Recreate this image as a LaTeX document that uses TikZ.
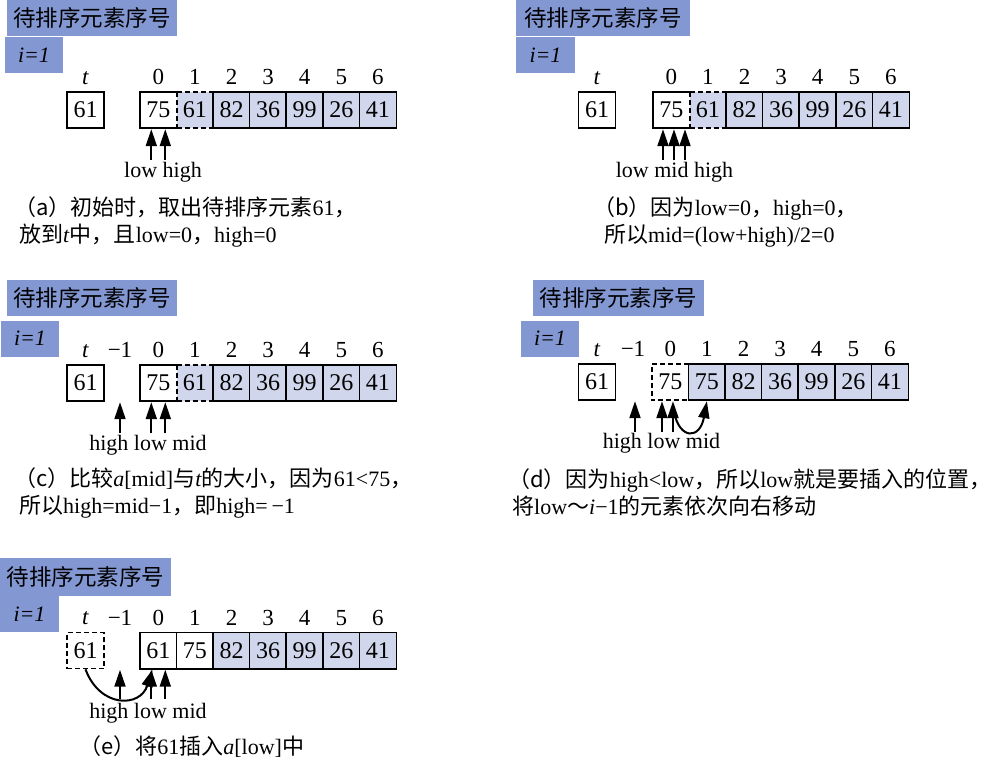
\documentclass[tikz,border=0pt]{standalone}
\usepackage{fontspec}
\setmainfont{Liberation Serif}
\newfontfamily\cjk{Noto Sans CJK SC}
\usetikzlibrary{arrows.meta}
\definecolor{hdrblue}{RGB}{131,151,210}
\definecolor{cellblue}{RGB}{208,215,236}
\newcommand\zh[1]{{\cjk #1}}
\begin{document}
\begin{tikzpicture}[x=1pt,y=-1pt,
  cellbox/.style={rectangle, minimum width=36.6pt, minimum height=36pt, inner sep=0pt, font=\fontsize{24}{24}\selectfont},
  tbox/.style={cellbox, minimum width=37pt, draw, line width=1.6pt},
  bord/.style={line width=1.6pt},
  dbord/.style={line width=1.6pt, dash pattern=on 5pt off 3pt},
  hdr/.style={fill=hdrblue, inner sep=0pt, minimum width=170pt, minimum height=36pt, font={\fontsize{22.5}{22.5}\selectfont\cjk}},
  ihdr/.style={fill=hdrblue, inner sep=0pt, minimum width=58pt, minimum height=36pt, font={\fontsize{22}{22}\selectfont\itshape}},
  idx/.style={anchor=base, inner sep=0pt, font=\fontsize{23}{23}\selectfont},
  lab/.style={anchor=base, inner sep=0pt, font=\fontsize{22}{22}\selectfont},
  captxt/.style={anchor=base west, inner sep=0pt, font=\fontsize{22}{22}\selectfont},
  ptr/.style={line width=2pt, -{Triangle[width=11pt,length=17pt]}}
]
\useasboundingbox (0,0) rectangle (1001,763);

% ================= (a) =================
\node[hdr] (ha) at (92,18) {待排序元素序号};
\node[ihdr] (ia) at (34,55) {i=1};
\node[tbox] (ta) at (85.5,110) {61};
\node[idx] at ([yshift=7pt]ta.north) {\textit{t}};
\foreach \v/\f [count=\k from 0] in {75/white,61/cellblue,82/cellblue,36/cellblue,99/cellblue,26/cellblue,41/cellblue}
  \node[cellbox, fill=\f] (a\k) at ({158.3+36.6*\k},110) {\v};
\foreach \k in {0,...,6} \node[idx] at ([yshift=7pt]a\k.north) {\k};
\draw[bord] (a0.north east) -- (a0.north west) -- (a0.south west) -- (a0.south east);
\draw[dbord] (a0.north east) -- (a1.north east) (a0.south east) -- (a1.south east) (a0.north east) -- (a0.south east);
\draw[bord] (a2.north west) rectangle (a6.south east);
\foreach \k in {3,...,6} \draw[bord] (a\k.north west) -- (a\k.south west);
\draw[ptr] ([xshift=-7pt,yshift=-32pt]a0.south) -- ([xshift=-7pt,yshift=-1pt]a0.south);
\draw[ptr] ([xshift=7pt,yshift=-32pt]a0.south) -- ([xshift=7pt,yshift=-1pt]a0.south);
\node[lab] (la) at (163,177) {low high};
\node[captxt] (ca1) at (14,215) {\zh{（a）初始时，取出待排序元素}61\zh{，}};
\node[captxt] (ca2) at (19,242) {\zh{放到}\textit{t}\zh{中，且}low=0\zh{，}high=0};

% ================= (b) =================
\node[hdr, minimum width=174pt] (hb) at (603,18) {待排序元素序号};
\node[ihdr, minimum width=59pt] (ib) at (545.5,55) {i=1};
\node[tbox] (tb) at (597,110) {61};
\node[idx] at ([yshift=7pt]tb.north) {\textit{t}};
\foreach \v/\f [count=\k from 0] in {75/white,61/cellblue,82/cellblue,36/cellblue,99/cellblue,26/cellblue,41/cellblue}
  \node[cellbox, fill=\f] (b\k) at ({671.3+36.6*\k},110) {\v};
\foreach \k in {0,...,6} \node[idx] at ([yshift=7pt]b\k.north) {\k};
\draw[bord] (b0.north east) -- (b0.north west) -- (b0.south west) -- (b0.south east);
\draw[dbord] (b0.north east) -- (b1.north east) (b0.south east) -- (b1.south east) (b0.north east) -- (b0.south east);
\draw[bord] (b2.north west) rectangle (b6.south east);
\foreach \k in {3,...,6} \draw[bord] (b\k.north west) -- (b\k.south west);
\foreach \s in {-8.3,2.7,13.7}
  \draw[ptr] ([xshift=\s pt,yshift=-32pt]b0.south) -- ([xshift=\s pt,yshift=-1pt]b0.south);
\node[lab] (lb) at (674.5,177) {low mid high};
\node[captxt] (cb1) at (593,215) {\zh{（b）因为}low=0\zh{，}high=0\zh{，}};
\node[captxt] (cb2) at (604,242) {\zh{所以}mid=(low+high)/2=0};

% ================= (c) =================
\node[hdr] (hc) at (92,298) {待排序元素序号};
\node[ihdr] (ic) at (30,338.5) {i=1};
\node[tbox] (tc) at (85.5,383) {61};
\node[idx] at ([yshift=7pt]tc.north) {\textit{t}};
\foreach \v/\f [count=\k from 0] in {75/white,61/cellblue,82/cellblue,36/cellblue,99/cellblue,26/cellblue,41/cellblue}
  \node[cellbox, fill=\f] (c\k) at ({158.3+36.6*\k},383) {\v};
\foreach \k in {0,...,6} \node[idx] at ([yshift=7pt]c\k.north) {\k};
\node[idx] at ([xshift=-38.3pt,yshift=7pt]c0.north) {−1};
\draw[bord] (c0.north east) -- (c0.north west) -- (c0.south west) -- (c0.south east);
\draw[dbord] (c0.north east) -- (c1.north east) (c0.south east) -- (c1.south east) (c0.north east) -- (c0.south east);
\draw[bord] (c2.north west) rectangle (c6.south east);
\foreach \k in {3,...,6} \draw[bord] (c\k.north west) -- (c\k.south west);
\foreach \s in {-38.3,-7,7}
  \draw[ptr] ([xshift=\s pt,yshift=-32pt]c0.south) -- ([xshift=\s pt,yshift=-1pt]c0.south);
\node[lab] (lc) at (148,450) {high low mid};
\node[captxt] (cc1) at (14,486) {\zh{（c）比较}\textit{a}[mid]\zh{与}\textit{t}\zh{的大小，因为}61<75\zh{，}};
\node[captxt] (cc2) at (19,513) {\zh{所以}high=mid−1\zh{，即}high=\,−1};

% ================= (d) =================
\node[hdr, minimum width=171pt] (hd) at (618.5,298) {待排序元素序号};
\node[ihdr] (id) at (550,338.5) {i=1};
\node[tbox] (td) at (597,382) {61};
\node[idx] at ([yshift=7pt]td.north) {\textit{t}};
\foreach \v/\f [count=\k from 0] in {75/white,75/cellblue,82/cellblue,36/cellblue,99/cellblue,26/cellblue,41/cellblue}
  \node[cellbox, fill=\f] (d\k) at ({670.3+36.6*\k},382) {\v};
\foreach \k in {0,...,6} \node[idx] at ([yshift=7pt]d\k.north) {\k};
\node[idx] at ([xshift=-37.3pt,yshift=7pt]d0.north) {−1};
\draw[dbord] (d0.north east) -- (d0.north west) -- (d0.south west) -- (d0.south east);
\draw[bord] (d1.north west) rectangle (d6.south east);
\foreach \k in {2,...,6} \draw[bord] (d\k.north west) -- (d\k.south west);
\foreach \s in {-35.3,-8.3,2.7}
  \draw[ptr] ([xshift=\s pt,yshift=-32pt]d0.south) -- ([xshift=\s pt,yshift=-1pt]d0.south);
\draw[ptr] ([xshift=3.7pt,yshift=-12pt]d0.south) .. controls +(6,28) and +(-7,38) .. ([yshift=-1pt]d1.south);
\node[lab] (ld) at (661.5,448) {high low mid};
\node[captxt] (cd1) at (508,487) {\zh{（d）因为}high<low\zh{，所以}low\zh{就是要插入的位置，}};
\node[captxt] (cd2) at (512,514) {\zh{将}low\zh{～}\textit{i}−1\zh{的元素依次向右移动}};

% ================= (e) =================
\node[hdr, minimum width=171pt, minimum height=38pt] (he) at (85.5,577) {待排序元素序号};
\node[ihdr, minimum width=59pt] (ie) at (29.5,614) {i=1};
\node[tbox, dash pattern=on 5pt off 3pt] (te) at (85.5,650.5) {61};
\node[idx] at ([yshift=7pt]te.north) {\textit{t}};
\foreach \v/\f [count=\k from 0] in {61/white,75/white,82/cellblue,36/cellblue,99/cellblue,26/cellblue,41/cellblue}
  \node[cellbox, fill=\f] (e\k) at ({158.3+36.6*\k},650.5) {\v};
\foreach \k in {0,...,6} \node[idx] at ([yshift=7pt]e\k.north) {\k};
\node[idx] at ([xshift=-38.3pt,yshift=7pt]e0.north) {−1};
\draw[bord] (e0.north west) rectangle (e6.south east);
\foreach \k in {1,...,6} \draw[bord] (e\k.north west) -- (e\k.south west);
\foreach \s in {-38.3,-7,7}
  \draw[ptr] ([xshift=\s pt,yshift=-30pt]e0.south) -- ([xshift=\s pt,yshift=-1pt]e0.south);
\draw[ptr] (te.south) .. controls +(14.5,39) and +(-12,38) .. ([xshift=-6pt,yshift=-1pt]e0.south);
\node[lab] (le) at (148,718) {high low mid};
\node[captxt] (ce1) at (79,754) {\zh{（e）将}61\zh{插入}\textit{a}[low]\zh{中}};
\end{tikzpicture}
\end{document}
